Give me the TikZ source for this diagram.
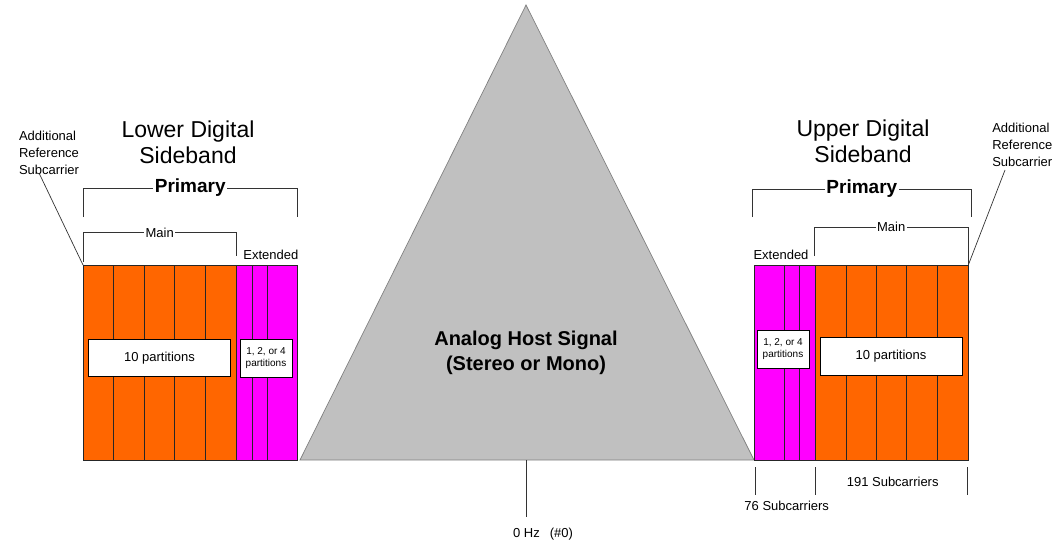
\documentclass[tikz,border=0pt]{standalone}
\usepackage{fontspec}
\setmainfont{Liberation Sans}
\usetikzlibrary{positioning}

\definecolor{mainorange}{HTML}{FF6600}
\definecolor{extmagenta}{HTML}{FF00FF}
\definecolor{hostgray}{HTML}{C0C0C0}

\begin{document}
\begin{tikzpicture}[x=1pt, y=-1pt,
    every node/.style={inner sep=0pt, outer sep=0pt, font=\fontsize{13}{17}\selectfont},
    bar/.style={draw=black!85, line width=0.7pt, minimum height=195pt, anchor=north west},
    mainbar/.style={bar, fill=mainorange},
    extbar/.style={bar, fill=extmagenta},
    partbox/.style={draw, fill=white, line width=0.7pt, align=center},
    smallpart/.style={partbox, font=\fontsize{10}{11.5}\selectfont},
    bandtitle/.style={font=\fontsize{23}{26.5}\selectfont, align=center},
    brlabel/.style={fill=white, text=black, inner xsep=1.5pt},
    bracket/.style={line width=0.7pt, black!80},
    tick/.style={line width=0.7pt, black!80}]

    \useasboundingbox (0,0) rectangle (1056,541);

    % analog host signal
    \coordinate (hostl) at (300,460);
    \coordinate (apex) at (526,5);
    \coordinate (hostr) at (754,460);
    \filldraw[fill=hostgray, draw=gray, line width=0.7pt] (hostl) -- (apex) -- (hostr) -- cycle;
    \node[font=\bfseries\fontsize{20}{25}\selectfont, align=center] (host) at (526,352.5)
        {Analog Host Signal\\(Stereo or Mono)};

    % lower sideband
    \foreach \a/\b [count=\i] in {83/113.5, 113.5/144.3, 144.3/174.5, 174.5/205, 205/236}
        \node[mainbar, minimum width=\b pt-\a pt] (lm\i) at (\a,265) {};
    \foreach \a/\b [count=\i] in {236/252, 252/267, 267/297.5}
        \node[extbar, minimum width=\b pt-\a pt] (le\i) at (\a,265) {};
    \node[partbox, minimum width=142.4pt, minimum height=37.4pt] (lten) at (159.5,358) {10 partitions};
    \node[smallpart, minimum width=52.3pt, minimum height=38pt] (lsmall) at (266,358) {1, 2, or 4\\partitions};

    % upper sideband
    \foreach \a/\b [count=\i] in {754/784.5, 784.5/799.5, 799.5/815}
        \node[extbar, minimum width=\b pt-\a pt] (re\i) at (\a,265) {};
    \foreach \a/\b [count=\i] in {815/846, 846/876.7, 876.7/906.7, 906.7/937.7, 937.7/968.3}
        \node[mainbar, minimum width=\b pt-\a pt] (rm\i) at (\a,265) {};
    \node[smallpart, minimum width=52.3pt, minimum height=38pt] (rsmall) at (783,349) {1, 2, or 4\\partitions};
    \node[partbox, minimum width=142.3pt, minimum height=38pt] (rten) at (891,356.3) {10 partitions};

    % titles
    \node[bandtitle] (ltitle) at (188,142.5) {Lower Digital\\Sideband};
    \node[bandtitle] (rtitle) at (863,141.5) {Upper Digital\\Sideband};

    % brackets
    \draw[bracket] (83,217) -- (83,188)
        -- node[brlabel, font=\bfseries\fontsize{19}{22}\selectfont] (lprim) {Primary} (297.5,188) -- (297.5,217);
    \draw[bracket] (83,262) -- (83,232.7) -- node[brlabel] (lmain) {Main} (236.5,232.7) -- (236.5,256);
    \node[anchor=base] (lext) at (270.8,259.3) {Extended};

    \draw[bracket] (752.7,217) -- (752.7,189)
        -- node[brlabel, font=\bfseries\fontsize{19}{22}\selectfont] (rprim) {Primary} (971,189) -- (971,217);
    \draw[bracket] (814,256) -- (814,227.3) -- node[brlabel] (rmain) {Main} (968.3,227.3) -- (968.3,265);
    \node[anchor=base] (rext) at (781,259.3) {Extended};

    % reference subcarriers
    \node[anchor=north west, align=left] (lref) at (19,131) {Additional\\Reference\\Subcarrier};
    \node[anchor=north west, align=left] (rref) at (992.3,123) {Additional\\Reference\\Subcarrier};
    \coordinate (lrefpt) at (39.5,174);
    \coordinate (rrefpt) at (1005,170);
    \draw[bracket] (lrefpt) -- (lm1.north west);
    \draw[bracket] (rrefpt) -- (rm5.north east);

    % subcarrier counts
    \coordinate (dc) at (526,460);
    \node[anchor=base] (zero) at (543,537) {0 Hz\hspace{10pt}(\#0)};
    \draw[tick] (dc) -- (526,517);

    \draw[tick] (755.5,467) -- (755.5,495);
    \draw[tick] (815,467) -- (815,495);
    \draw[tick] (967.7,467) -- (967.7,495);
    \node[anchor=base] (n76) at (786.7,510.7) {76 Subcarriers};
    \node[anchor=base] (n191) at (892.7,486.7) {191 Subcarriers};
\end{tikzpicture}
\end{document}
